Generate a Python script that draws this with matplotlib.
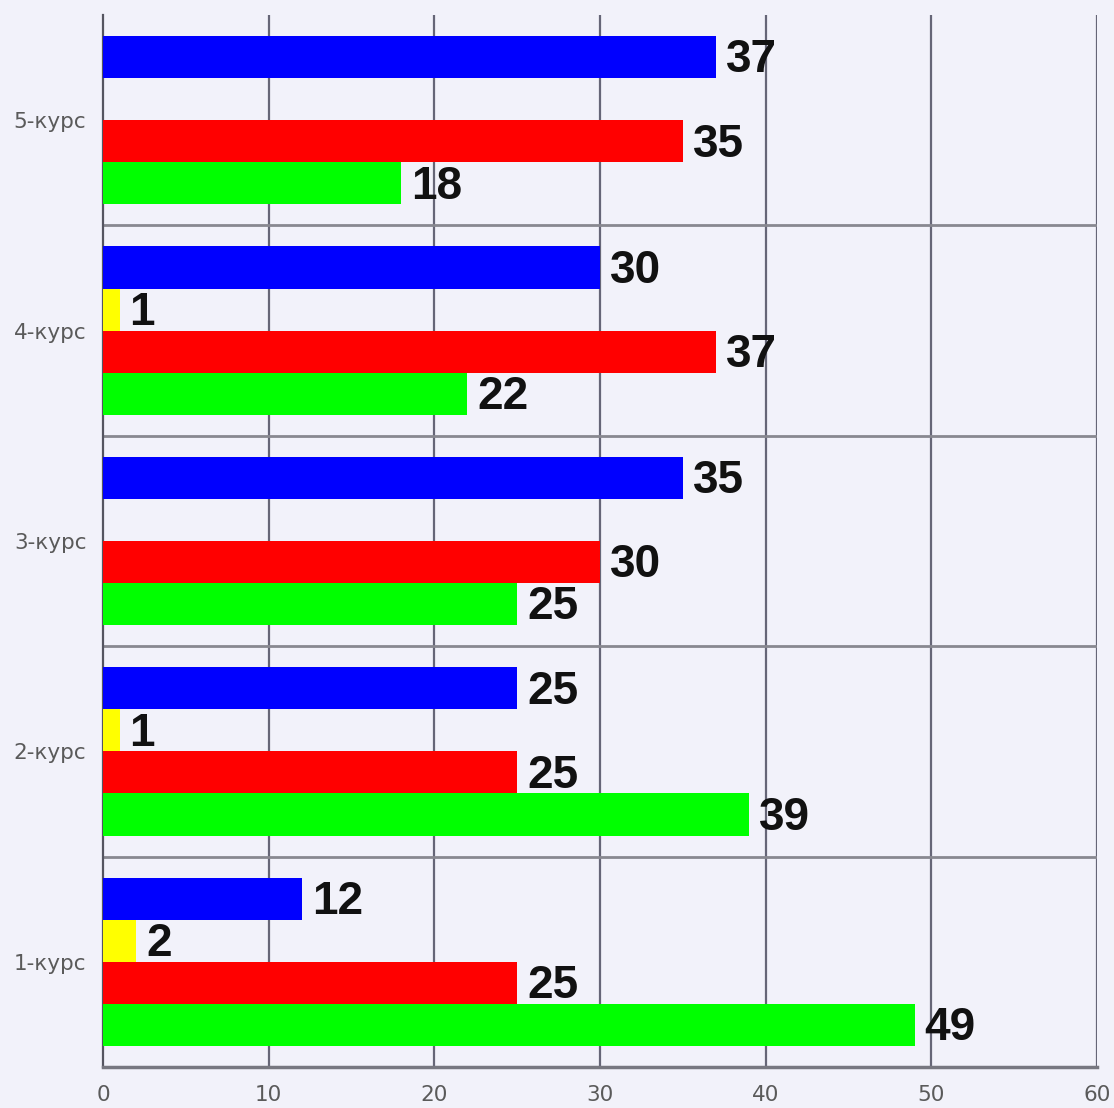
import matplotlib.pyplot as plt
import numpy as np

courses = ["1-курс", "2-курс", "3-курс", "4-курс", "5-курс"]
blue = [12, 25, 35, 30, 37]
yellow = [2, 1, 0, 1, 0]
red = [25, 25, 30, 37, 35]
green = [49, 39, 25, 22, 18]
xticks = [0, 10, 20, 30, 40, 50, 60]

bg = "#f2f2fa"
fig = plt.figure(figsize=(11.14, 11.08), dpi=100, facecolor=bg)
ax = fig.add_axes([103 / 1114, 41 / 1108, 994 / 1114, 1052 / 1108])
ax.set_facecolor(bg)

y = np.arange(len(courses))
h = 0.2
series = [(blue, "#0000ff", 0.3), (yellow, "#ffff00", 0.1),
          (red, "#ff0000", -0.1), (green, "#00ff00", -0.3)]
for vals, col, off in series:
    bars = ax.barh(y + off, vals, height=h, color=col, zorder=3)
    for b, v in zip(bars, vals):
        if v > 0:
            ax.text(v + 0.6, b.get_y() + h / 2 + 0.008, str(v), va="center_baseline",
                    ha="left", fontsize=33, fontweight="bold",
                    family="Liberation Sans", color="#111111", zorder=4)

ax.set_xlim(0, 60)
ax.set_ylim(-0.5, 4.5)
ax.set_xticks(xticks)
ax.set_yticks(y)
ax.set_yticklabels(courses)
ax.tick_params(length=0, labelcolor="#5a5a5a")
ax.tick_params(axis="x", labelsize=15.5, pad=13)
ax.tick_params(axis="y", labelsize=15.5, pad=12)
for lab in ax.get_xticklabels() + ax.get_yticklabels():
    lab.set_family("DejaVu Sans")

for xv in xticks[1:]:
    ax.axvline(xv, color="#666677", lw=1.6, zorder=1)
for yv in y[:-1] + 0.5:
    ax.axhline(yv, color="#888890", lw=2, zorder=1)

for s in ["top", "right"]:
    ax.spines[s].set_visible(False)
ax.spines["left"].set_color("#555560")
ax.spines["left"].set_linewidth(1.6)
ax.spines["bottom"].set_color("#777780")
ax.spines["bottom"].set_linewidth(2.5)

fig.savefig("out.png", dpi=100, facecolor=bg)
